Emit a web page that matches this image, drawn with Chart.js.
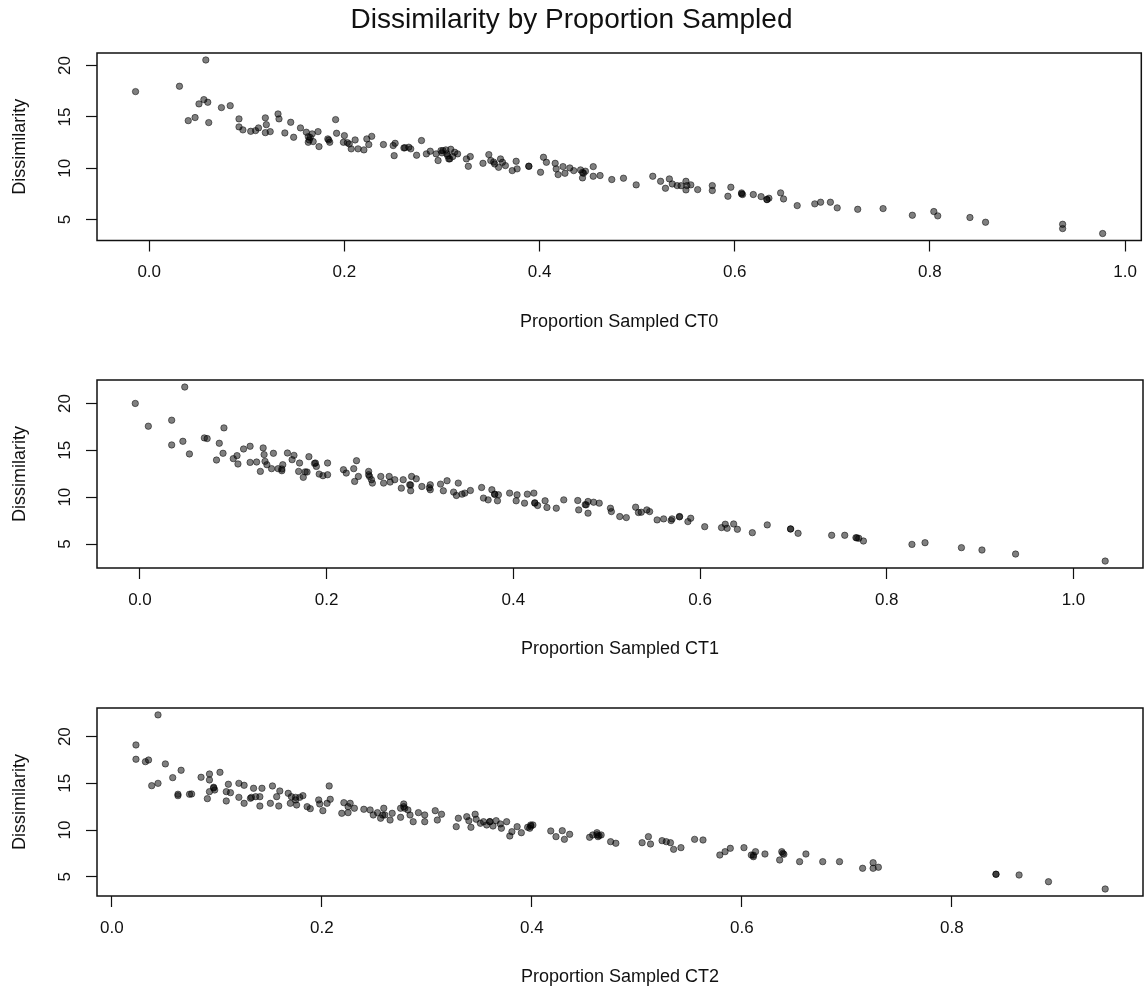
<!DOCTYPE html>
<html>
<head>
<meta charset="utf-8">
<title>Dissimilarity by Proportion Sampled</title>
<script src="https://cdn.jsdelivr.net/npm/chart.js@4.4.1/dist/chart.umd.min.js"></script>
<style>
  body { margin: 0; background: #fff; }
  #wrap { position: relative; width: 1148px; height: 997px; }
  .panel { position: absolute; left: 0; width: 1148px; }
</style>
</head>
<body>
<div id="wrap">
  <div class="panel" style="top:0;height:342px"><canvas id="ct0"></canvas></div>
  <div class="panel" style="top:342px;height:327px"><canvas id="ct1"></canvas></div>
  <div class="panel" style="top:669px;height:328px"><canvas id="ct2"></canvas></div>
</div>
<script>
/**************************************************
 DATA
**************************************************/
const mainTitle = "Dissimilarity by Proportion Sampled";
const yLabel = "Dissimilarity";
const xLabels = ["Proportion Sampled CT0", "Proportion Sampled CT1", "Proportion Sampled CT2"];

const yTicks = [5, 10, 15, 20];
const xTicksCT0 = [0, 0.2, 0.4, 0.6, 0.8, 1.0];
const xTicksCT1 = [0, 0.2, 0.4, 0.6, 0.8, 1.0];
const xTicksCT2 = [0, 0.2, 0.4, 0.6, 0.8];

// CT0
const ct0X = [
  -0.014, 0.031, 0.058, 0.051, 0.056, 0.060, 0.040, 0.047, 0.061, 0.074,
  0.083, 0.092, 0.092, 0.096, 0.104, 0.109, 0.112, 0.119, 0.120, 0.119,
  0.124, 0.132, 0.133, 0.139, 0.145, 0.148, 0.155, 0.161, 0.163, 0.163,
  0.164, 0.167, 0.173, 0.174, 0.183, 0.185, 0.191, 0.192, 0.200, 0.199,
  0.205, 0.207, 0.211, 0.214, 0.220, 0.223, 0.228, 0.225, 0.240, 0.250,
  0.251, 0.252, 0.261, 0.266, 0.268, 0.274, 0.279, 0.284, 0.288, 0.294,
  0.296, 0.301, 0.305, 0.307,
  0.299, 0.304, 0.309, 0.308, 0.313, 0.316, 0.311, 0.325, 0.329, 0.327,
  0.342, 0.348, 0.350, 0.354, 0.358, 0.360, 0.362, 0.365, 0.372, 0.376,
  0.377, 0.389, 0.401, 0.404, 0.407, 0.416, 0.417, 0.419, 0.424, 0.426,
  0.431, 0.435, 0.442, 0.445, 0.444, 0.447, 0.455, 0.455, 0.462, 0.474,
  0.486, 0.499, 0.516, 0.524, 0.533, 0.529, 0.536, 0.541, 0.550, 0.551,
  0.550, 0.555, 0.562, 0.577, 0.577, 0.596, 0.593, 0.607, 0.608, 0.619,
  0.627, 0.633, 0.635, 0.647, 0.650, 0.664,
  0.682, 0.688, 0.698, 0.705, 0.726, 0.752, 0.782, 0.804, 0.808, 0.841,
  0.857, 0.936, 0.936, 0.977,
  0.165, 0.168, 0.184, 0.203, 0.262, 0.300, 0.306, 0.353, 0.389, 0.444,
  0.545, 0.607, 0.633
];
const ct0Y = [
  17.47, 17.99, 20.55, 16.27, 16.69, 16.43, 14.64, 14.94, 14.45, 15.91,
  16.10, 14.81, 14.03, 13.74, 13.60, 13.67, 13.93, 14.91, 14.25, 13.47,
  13.57, 15.29, 14.81, 13.44, 14.48, 13.02, 13.93, 13.51, 13.08, 12.53,
  12.76, 13.35, 13.57, 12.11, 12.86, 12.53, 14.74, 13.41, 13.18, 12.53,
  12.37, 11.89, 12.76, 11.89, 11.79, 12.86, 13.11, 12.31, 12.31, 12.21,
  11.23, 12.43, 11.98, 12.05, 11.89, 11.27, 12.70, 11.40, 11.66, 11.40,
  10.75, 11.72, 11.40, 10.91,
  11.72, 11.79, 11.85, 10.91, 11.56, 11.40, 11.14, 10.91, 11.14, 10.19,
  10.48, 11.33, 10.75, 10.42, 10.09, 10.91, 10.58, 10.26, 9.77, 10.68,
  9.94, 10.19, 9.61, 11.07, 10.58, 10.48, 9.94, 9.38, 10.16, 9.51,
  10.03, 9.77, 9.84, 9.51, 9.06, 9.71, 10.16, 9.22, 9.29, 8.90,
  9.03, 8.38, 9.22, 8.73, 8.96, 8.05, 8.47, 8.31, 8.73, 8.31,
  7.89, 8.38, 7.92, 8.31, 7.83, 8.15, 7.27, 7.60, 7.44, 7.44,
  7.24, 6.95, 7.08, 7.60, 7.01, 6.36,
  6.53, 6.69, 6.69, 6.14, 6.00, 6.07, 5.42, 5.78, 5.36, 5.20,
  4.74, 4.54, 4.12, 3.64,
  13.00, 12.60, 12.75, 12.50, 12.00, 11.50, 11.20, 10.60, 10.20, 9.60,
  8.30, 7.50, 6.95
];

// CT1
const ct1X = [
  -0.005, 0.009, 0.048, 0.034, 0.034, 0.046, 0.053, 0.069, 0.072, 0.085,
  0.090, 0.089, 0.082, 0.100, 0.104, 0.105, 0.111, 0.118, 0.118, 0.125,
  0.129, 0.132, 0.133, 0.134, 0.136, 0.141, 0.143, 0.148, 0.153, 0.152,
  0.158, 0.165, 0.163, 0.171, 0.170, 0.175, 0.179, 0.181, 0.188, 0.189,
  0.192, 0.196, 0.201, 0.201, 0.218, 0.221, 0.229, 0.232, 0.230, 0.234,
  0.245, 0.246, 0.248, 0.249, 0.258, 0.261, 0.267, 0.268, 0.273, 0.280,
  0.282, 0.289, 0.291, 0.290, 0.296, 0.302, 0.311, 0.311, 0.322, 0.325,
  0.329,
  0.336, 0.341, 0.339, 0.345, 0.348, 0.354, 0.366, 0.368, 0.373, 0.377,
  0.380, 0.384, 0.383, 0.396, 0.404, 0.403, 0.412, 0.415, 0.422, 0.423,
  0.426, 0.434, 0.436, 0.446, 0.454, 0.469, 0.470, 0.478, 0.480, 0.480,
  0.486, 0.492, 0.504, 0.505, 0.514, 0.521, 0.531, 0.534, 0.537, 0.543,
  0.546, 0.554, 0.561, 0.569, 0.570, 0.578, 0.587, 0.590, 0.605, 0.623,
  0.627, 0.629, 0.636, 0.640, 0.656, 0.672, 0.697, 0.705,
  0.741, 0.755, 0.767, 0.770, 0.775, 0.827, 0.841, 0.880, 0.902, 0.938,
  1.034,
  0.152, 0.177, 0.187, 0.245, 0.290, 0.310, 0.380, 0.423, 0.477, 0.578,
  0.697, 0.768
];
const ct1Y = [
  20.00, 17.57, 21.75, 18.21, 15.57, 15.96, 14.61, 16.32, 16.25, 15.75,
  17.39, 14.68, 13.96, 14.11, 14.43, 13.54, 15.14, 15.43, 13.71, 13.75,
  12.75, 15.25, 14.54, 13.82, 13.46, 13.04, 14.68, 13.04, 13.46, 12.82,
  14.71, 14.46, 14.00, 13.64, 12.75, 12.11, 12.68, 14.32, 13.64, 13.28,
  12.46, 12.29, 13.64, 12.39, 12.93, 12.57, 13.04, 13.89, 11.68, 12.21,
  12.75, 12.21, 11.86, 11.50, 12.21, 11.50, 12.21, 11.61, 11.86, 10.96,
  11.86, 11.32, 12.21, 10.68, 11.96, 11.14, 11.32, 10.79, 11.39, 10.68,
  11.75,
  10.54, 11.50, 10.18, 10.32, 10.43, 10.71, 11.03, 9.90, 9.71, 10.79,
  10.32, 10.25, 9.61, 10.43, 10.25, 9.61, 9.36, 10.32, 10.43, 9.36,
  9.11, 9.61, 8.90, 8.82, 9.71, 9.64, 8.64, 9.18, 9.54, 8.29,
  9.46, 9.36, 8.82, 8.46, 7.93, 7.82, 8.93, 8.36, 8.39, 8.64,
  8.46, 7.57, 7.68, 7.50, 7.68, 7.93, 7.39, 7.75, 6.85, 6.75,
  7.11, 6.68, 7.14, 6.57, 6.21, 7.04, 6.61, 6.14,
  5.93, 5.93, 5.68, 5.61, 5.32, 4.96, 5.14, 4.61, 4.36, 3.93,
  3.18,
  13.00, 12.70, 13.60, 12.40, 11.30, 11.00, 10.30, 9.40, 9.20, 7.90,
  6.60, 5.65
];

// CT2
const ct2X = [
  0.023, 0.023, 0.032, 0.035, 0.044, 0.051, 0.038, 0.044, 0.058, 0.066,
  0.063, 0.063, 0.074, 0.076, 0.085, 0.093, 0.093, 0.091, 0.093, 0.097,
  0.098, 0.103, 0.109, 0.109, 0.111, 0.113, 0.121, 0.126, 0.121, 0.126,
  0.132, 0.135, 0.137, 0.141, 0.143, 0.141, 0.151, 0.153, 0.157, 0.159,
  0.160, 0.168, 0.170, 0.171, 0.175, 0.176, 0.179, 0.182, 0.186, 0.189,
  0.197, 0.198, 0.201, 0.207, 0.208, 0.205, 0.221, 0.219, 0.225, 0.227,
  0.231, 0.225, 0.240, 0.246, 0.249, 0.253, 0.259, 0.256, 0.260, 0.267,
  0.265, 0.275, 0.278, 0.279, 0.282, 0.284, 0.287, 0.292, 0.298, 0.298,
  0.308, 0.310, 0.314, 0.275,
  0.330, 0.328, 0.338, 0.340, 0.342, 0.346, 0.347, 0.351, 0.354, 0.357,
  0.360, 0.363, 0.366, 0.370, 0.371, 0.376, 0.379, 0.381, 0.386, 0.390,
  0.396, 0.399, 0.401, 0.398, 0.418, 0.423, 0.429, 0.431, 0.436, 0.455,
  0.458, 0.462, 0.463, 0.466, 0.475, 0.480, 0.505, 0.511, 0.513, 0.524,
  0.528, 0.532, 0.535, 0.542, 0.555, 0.563, 0.579, 0.584, 0.589, 0.602,
  0.609, 0.613, 0.611, 0.622, 0.636, 0.638, 0.640, 0.655,
  0.661, 0.677, 0.693, 0.715, 0.725, 0.725, 0.730, 0.842, 0.842, 0.864,
  0.892, 0.946,
  0.097, 0.133, 0.175, 0.258, 0.278, 0.360, 0.399, 0.462, 0.464, 0.611,
  0.639
];
const ct2Y = [
  19.11, 17.58, 17.32, 17.50, 22.33, 17.08, 14.75, 15.00, 15.61, 16.40,
  13.83, 13.68, 13.83, 13.86, 15.65, 16.00, 15.36, 13.36, 14.11, 14.58,
  14.29, 16.18, 14.11, 13.11, 14.90, 14.00, 15.00, 14.79, 13.50, 12.86,
  13.40, 14.47, 13.57, 12.57, 14.47, 13.57, 12.86, 14.72, 13.57, 12.57,
  14.18, 13.93, 12.86, 13.57, 13.22, 12.68, 13.50, 13.68, 12.50, 12.29,
  13.22, 12.79, 12.07, 14.72, 13.29, 12.86, 12.93, 11.79, 12.50, 12.86,
  12.33, 11.86, 12.22, 12.15, 11.61, 11.86, 12.33, 11.26, 11.61, 11.79,
  11.07, 11.36, 12.79, 12.33, 12.15, 11.61, 10.89, 11.86, 11.61, 10.89,
  12.07, 11.07, 11.69, 12.33,
  11.26, 10.36, 11.43, 11.00, 10.29, 11.69, 11.15, 10.72, 10.89, 10.54,
  10.89, 10.43, 11.00, 10.65, 10.19, 10.89, 9.36, 9.82, 10.36, 9.71,
  10.29, 10.54, 10.54, 10.19, 9.90, 9.29, 9.93, 9.00, 9.54, 9.22,
  9.47, 9.71, 9.29, 9.47, 8.75, 8.58, 8.64, 9.29, 8.50, 8.86,
  8.75, 8.64, 7.93, 8.11, 9.00, 8.93, 7.32, 7.68, 8.04, 8.11,
  7.32, 7.68, 7.14, 7.43, 6.79, 7.68, 7.40, 6.61,
  7.43, 6.61, 6.61, 5.90, 6.50, 5.90, 6.01, 5.26, 5.26, 5.18,
  4.46, 3.68,
  14.50, 13.50, 13.50, 11.60, 12.50, 10.90, 10.40, 9.50, 9.40, 7.30,
  7.50
];

/**************************************************
 STYLE
**************************************************/
const FAMILY = "'Liberation Sans', Arial, Helvetica, sans-serif";
const INK = "#111";
const POINT = "rgba(0,0,0,0.5)";
const tickFont = { family: FAMILY, size: 17 };
const labelFont = { family: FAMILY, size: 18 };

// box around the plotting region
const framePlugin = {
  id: "frame",
  afterDatasetsDraw(chart) {
    const { ctx, chartArea: a } = chart;
    ctx.save();
    ctx.strokeStyle = INK;
    ctx.lineWidth = 1.5;
    ctx.strokeRect(a.left, a.top, a.right - a.left, a.bottom - a.top);
    ctx.restore();
  }
};

/**************************************************
 PANELS
**************************************************/
function scatterPanel(id, xs, ys, xTitle, xTicks, xRange, yRange, box) {
  const pts = xs.map((x, i) => ({ x: x, y: ys[i] }));

  return new Chart(document.getElementById(id), {
    type: "scatter",
    data: {
      datasets: [{
        data: pts,
        pointRadius: 3.2,
        pointHoverRadius: 3.2,
        borderWidth: 1,
        backgroundColor: POINT,
        borderColor: POINT
      }]
    },
    options: {
      responsive: true,
      maintainAspectRatio: false,
      animation: false,
      events: [],
      layout: { padding: { top: box.top, right: 5, bottom: 0, left: 0 } },
      plugins: {
        legend: { display: false },
        tooltip: { enabled: false },
        title: box.title ? {
          display: true,
          text: box.title,
          color: INK,
          font: { family: FAMILY, size: 28, weight: "normal" },
          padding: { top: 3, bottom: 16.4 }
        } : { display: false }
      },
      scales: {
        x: {
          type: "linear",
          position: "bottom",
          min: xRange[0],
          max: xRange[1],
          afterBuildTicks: s => { s.ticks = xTicks.map(v => ({ value: v })); },
          afterFit: s => { s.height = box.axisH; },
          ticks: {
            callback: v => v.toFixed(1),
            font: tickFont,
            color: INK,
            padding: 11,
            maxRotation: 0,
            autoSkip: false
          },
          grid: { drawOnChartArea: false, drawTicks: true, tickLength: 11, tickColor: INK, tickWidth: 1.2 },
          border: { display: false },
          title: { display: true, text: xTitle, font: labelFont, color: INK, padding: { top: 0, bottom: 9 } }
        },
        y: {
          type: "linear",
          position: "left",
          min: yRange[0],
          max: yRange[1],
          afterBuildTicks: s => { s.ticks = yTicks.map(v => ({ value: v })); },
          afterFit: s => { s.width = 97; },
          ticks: {
            callback: v => String(v),
            font: tickFont,
            color: INK,
            padding: 11.5,
            minRotation: 90,
            maxRotation: 90,
            crossAlign: "center",
            autoSkip: false
          },
          grid: { drawOnChartArea: false, drawTicks: true, tickLength: 11, tickColor: INK, tickWidth: 1.2 },
          border: { display: false },
          title: { display: true, text: yLabel, font: labelFont, color: INK, padding: { top: 9.2, bottom: 0 } }
        }
      }
    },
    plugins: [framePlugin]
  });
}

scatterPanel("ct0", ct0X, ct0Y, xLabels[0], xTicksCT0, [-0.0535, 1.0166], [2.96, 21.23],
  { top: 0, axisH: 101.5, title: mainTitle });
scatterPanel("ct1", ct1X, ct1Y, xLabels[1], xTicksCT1, [-0.046, 1.0745], [2.44, 22.5],
  { top: 38, axisH: 101 });
scatterPanel("ct2", ct2X, ct2Y, xLabels[2], xTicksCT2, [-0.0141, 0.982], [2.93, 23.07],
  { top: 39, axisH: 101 });
</script>
</body>
</html>
